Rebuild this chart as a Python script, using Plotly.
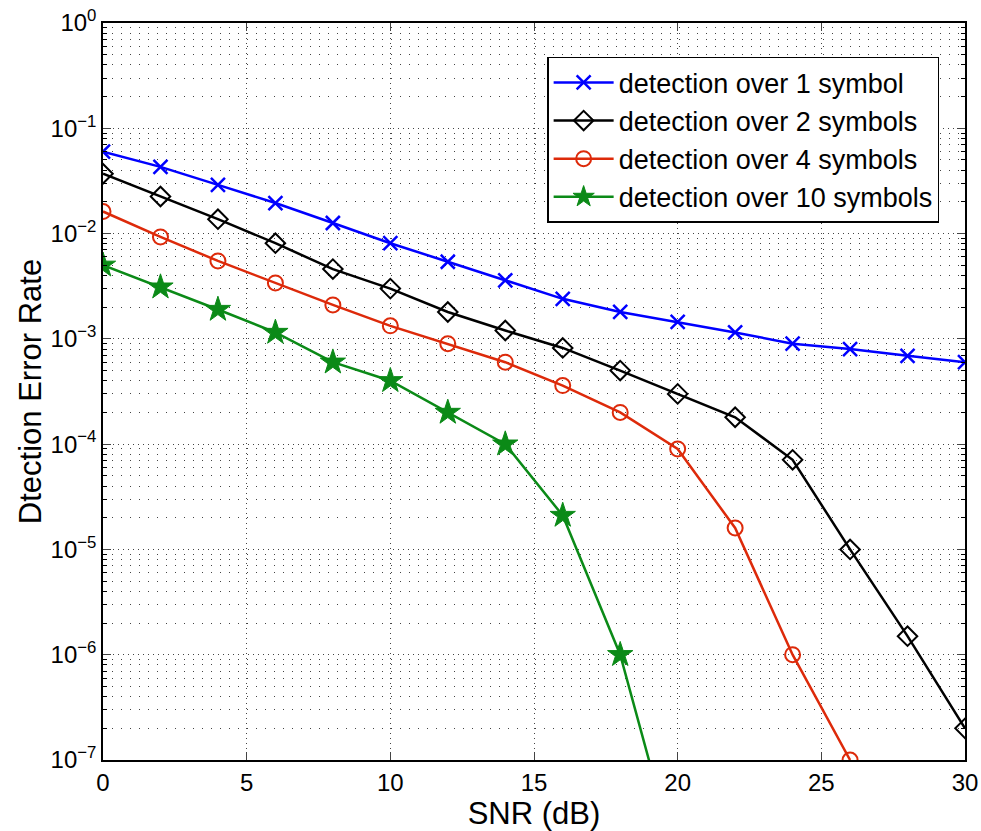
import plotly.graph_objects as go

snr = [0, 2, 4, 6, 8, 10, 12, 14, 16, 18, 20, 22, 24, 26, 28, 30]

ser_1 = [0.06, 0.043, 0.029, 0.0195, 0.0126, 0.0081, 0.0054, 0.0036, 0.0024,
         0.0018, 0.00145, 0.00115, 0.0009, 0.0008, 0.00069, 0.0006]
ser_2 = [0.037, 0.0225, 0.0137, 0.0081, 0.0046, 0.003, 0.0018, 0.0012, 0.00082,
         0.0005, 0.0003, 0.00018, 7.1e-5, 1.0e-5, 1.5e-6, 2.0e-7]
snr_4 = [0, 2, 4, 6, 8, 10, 12, 14, 16, 18, 20, 22, 24, 26]
ser_4 = [0.0162, 0.0093, 0.0055, 0.0034, 0.0021, 0.00133, 0.0009, 0.0006, 0.00036,
         0.0002, 9e-5, 1.6e-5, 1e-6, 1e-7]
snr_10 = [0, 2, 4, 6, 8, 10, 12, 14, 16, 18, 20]
ser_10 = [0.005, 0.0031, 0.0019, 0.00115, 0.0006, 0.0004, 0.0002, 0.0001, 2.1e-5,
          1e-6, 1e-8]

names = ["detection over 1 symbol", "detection over 2 symbols",
         "detection over 4 symbols", "detection over 10 symbols"]

x_ticks = [0, 5, 10, 15, 20, 25, 30]
y_exps = [0, -1, -2, -3, -4, -5, -6, -7]

fig = go.Figure()
fig.add_trace(go.Scatter(x=snr, y=ser_1, name=names[0], mode="lines+markers",
                         line=dict(color="#0000FF", width=2.5),
                         marker=dict(symbol="x-thin-open", size=14,
                                     line=dict(color="#0000FF", width=2.5))))
fig.add_trace(go.Scatter(x=snr, y=ser_2, name=names[1], mode="lines+markers",
                         line=dict(color="#000000", width=2.5),
                         marker=dict(symbol="diamond-open", size=15,
                                     line=dict(color="#000000", width=2))))
fig.add_trace(go.Scatter(x=snr_4, y=ser_4, name=names[2], mode="lines+markers",
                         line=dict(color="#DD2A0A", width=2.5),
                         marker=dict(symbol="circle-open", size=15,
                                     line=dict(color="#DD2A0A", width=2))))
fig.add_trace(go.Scatter(x=snr_10, y=ser_10, name=names[3], mode="lines+markers",
                         line=dict(color="#0B8A17", width=2.5),
                         marker=dict(symbol="star", size=19, color="#0B8A17",
                                     line=dict(color="#0B8A17", width=1))))

minor_vals = [m * 10.0 ** e for e in range(-7, 0) for m in range(2, 10)]

fig.update_layout(
    width=981, height=831,
    margin=dict(l=103, r=16, t=23, b=71, autoexpand=False),
    paper_bgcolor="white", plot_bgcolor="white",
    font=dict(family="Liberation Sans, Arial, sans-serif", color="black", size=24),
    showlegend=True,
    legend=dict(x=0.97, y=0.954, xanchor="right", yanchor="top",
                bgcolor="white", bordercolor="black", borderwidth=1.5,
                font=dict(size=27), tracegroupgap=0, itemwidth=60),
    xaxis=dict(
        range=[0, 30], tickvals=x_ticks, ticks="inside", ticklen=8,
        showline=True, linecolor="black", linewidth=1.5, mirror="ticks",
        showgrid=True, gridcolor="#444444", griddash="1px,4px", gridwidth=1,
        zeroline=False, tickfont=dict(size=24), automargin=False,
        title=dict(text="SNR (dB)", font=dict(size=31), standoff=0),
    ),
    yaxis=dict(
        type="log", range=[-7, 0],
        tickvals=[10.0 ** e for e in y_exps],
        ticktext=["10<sup>%s</sup>" % (str(e).replace("-", "\u2212")) for e in y_exps],
        ticks="inside", ticklen=8,
        showline=True, linecolor="black", linewidth=1.5, mirror="ticks",
        showgrid=True, gridcolor="#444444", griddash="1px,4px", gridwidth=1,
        zeroline=False, tickfont=dict(size=24), automargin=False,
        minor=dict(tickvals=minor_vals, ticks="inside", ticklen=4, tickcolor="black",
                   showgrid=True, gridcolor="#444444", griddash="1px,8px", gridwidth=1),
        title=dict(text="Dtection Error Rate", font=dict(size=31), standoff=0),
    ),
)

fig.write_html("out.html", config={"displayModeBar": False},
               post_script="document.body.style.margin='0px';document.body.style.overflow='hidden';")
